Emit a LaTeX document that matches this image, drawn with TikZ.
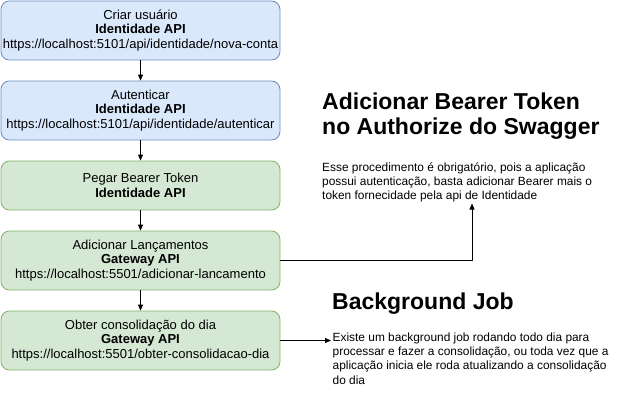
\documentclass[tikz,border=0pt]{standalone}
\usepackage{fontspec}
\setmainfont{Liberation Sans}
\usetikzlibrary{arrows.meta}
\definecolor{bluefill}{HTML}{DAE8FC}
\definecolor{bluedraw}{HTML}{6C8EBF}
\definecolor{greenfill}{HTML}{D5E8D4}
\definecolor{greendraw}{HTML}{82B366}
\tikzset{
  box/.style={rounded corners=8.5pt, minimum width=279pt, inner sep=0pt, align=center,
    font=\fontsize{13}{14.5}\selectfont, line width=0.8pt},
  bluebox/.style={box, fill=bluefill, draw=bluedraw},
  greenbox/.style={box, fill=greenfill, draw=greendraw},
  heading/.style={anchor=base west, inner sep=0pt, align=left, font=\fontsize{23}{25.3}\selectfont\bfseries},
  body/.style={anchor=base west, inner sep=0pt, align=left, font=\fontsize{11.9}{14.4}\selectfont},
  conn/.style={draw=black, line width=0.8pt, -{Triangle[length=6pt,width=5pt]}}
}
\begin{document}
\begin{tikzpicture}[x=1pt,y=-1pt]
\useasboundingbox (0,0) rectangle (621,404);
\node[bluebox, minimum height=59pt] (b1) at (140.5,30.5) {Criar usuário\\\textbf{Identidade API}\\https://localhost:5101/api/identidade/nova-conta};
\node[bluebox, minimum height=59pt] (b2) at (140.5,110.5) {Autenticar\\\textbf{Identidade API}\\https://localhost:5101/api/identidade/autenticar};
\node[greenbox, minimum height=49pt] (b3) at (140.5,185.5) {Pegar Bearer Token\\\textbf{Identidade API}};
\node[greenbox, minimum height=59pt] (b4) at (140.5,260.5) {Adicionar Lançamentos\\\textbf{Gateway API}\\https://localhost:5501/adicionar-lancamento};
\node[greenbox, minimum height=59pt] (b5) at (140.5,340.5) {Obter consolidação do dia\\\textbf{Gateway API}\\https://localhost:5501/obter-consolidacao-dia};

% base anchor = baseline of the last line
\node[heading] (h1) at (322,134.3) {Adicionar Bearer Token\\no Authorize do Swagger};
\node[body] (d1) at (322,199.8) {Esse procedimento é obrigatório, pois a aplicação\\possui autenticação, basta adicionar Bearer mais o\\token fornecidade pela api de Identidade};
\node[heading] (h2) at (332,309) {Background Job};
\node[body] (d2) at (332.5,384.2) {Existe um background job rodando todo dia para\\processar e fazer a consolidação, ou toda vez que a\\aplicação inicia ele roda atualizando a consolidação\\do dia};

\coordinate (t1) at (472,203.5);
\coordinate (t2) at (331,340.5);

\draw[conn] (b1) -- (b2);
\draw[conn] (b2) -- (b3);
\draw[conn] (b3) -- (b4);
\draw[conn] (b4) -- (b5);
\draw[conn] (b4.east) -| (t1);
\draw[conn] (b5.east) -- (t2);
\end{tikzpicture}
\end{document}
